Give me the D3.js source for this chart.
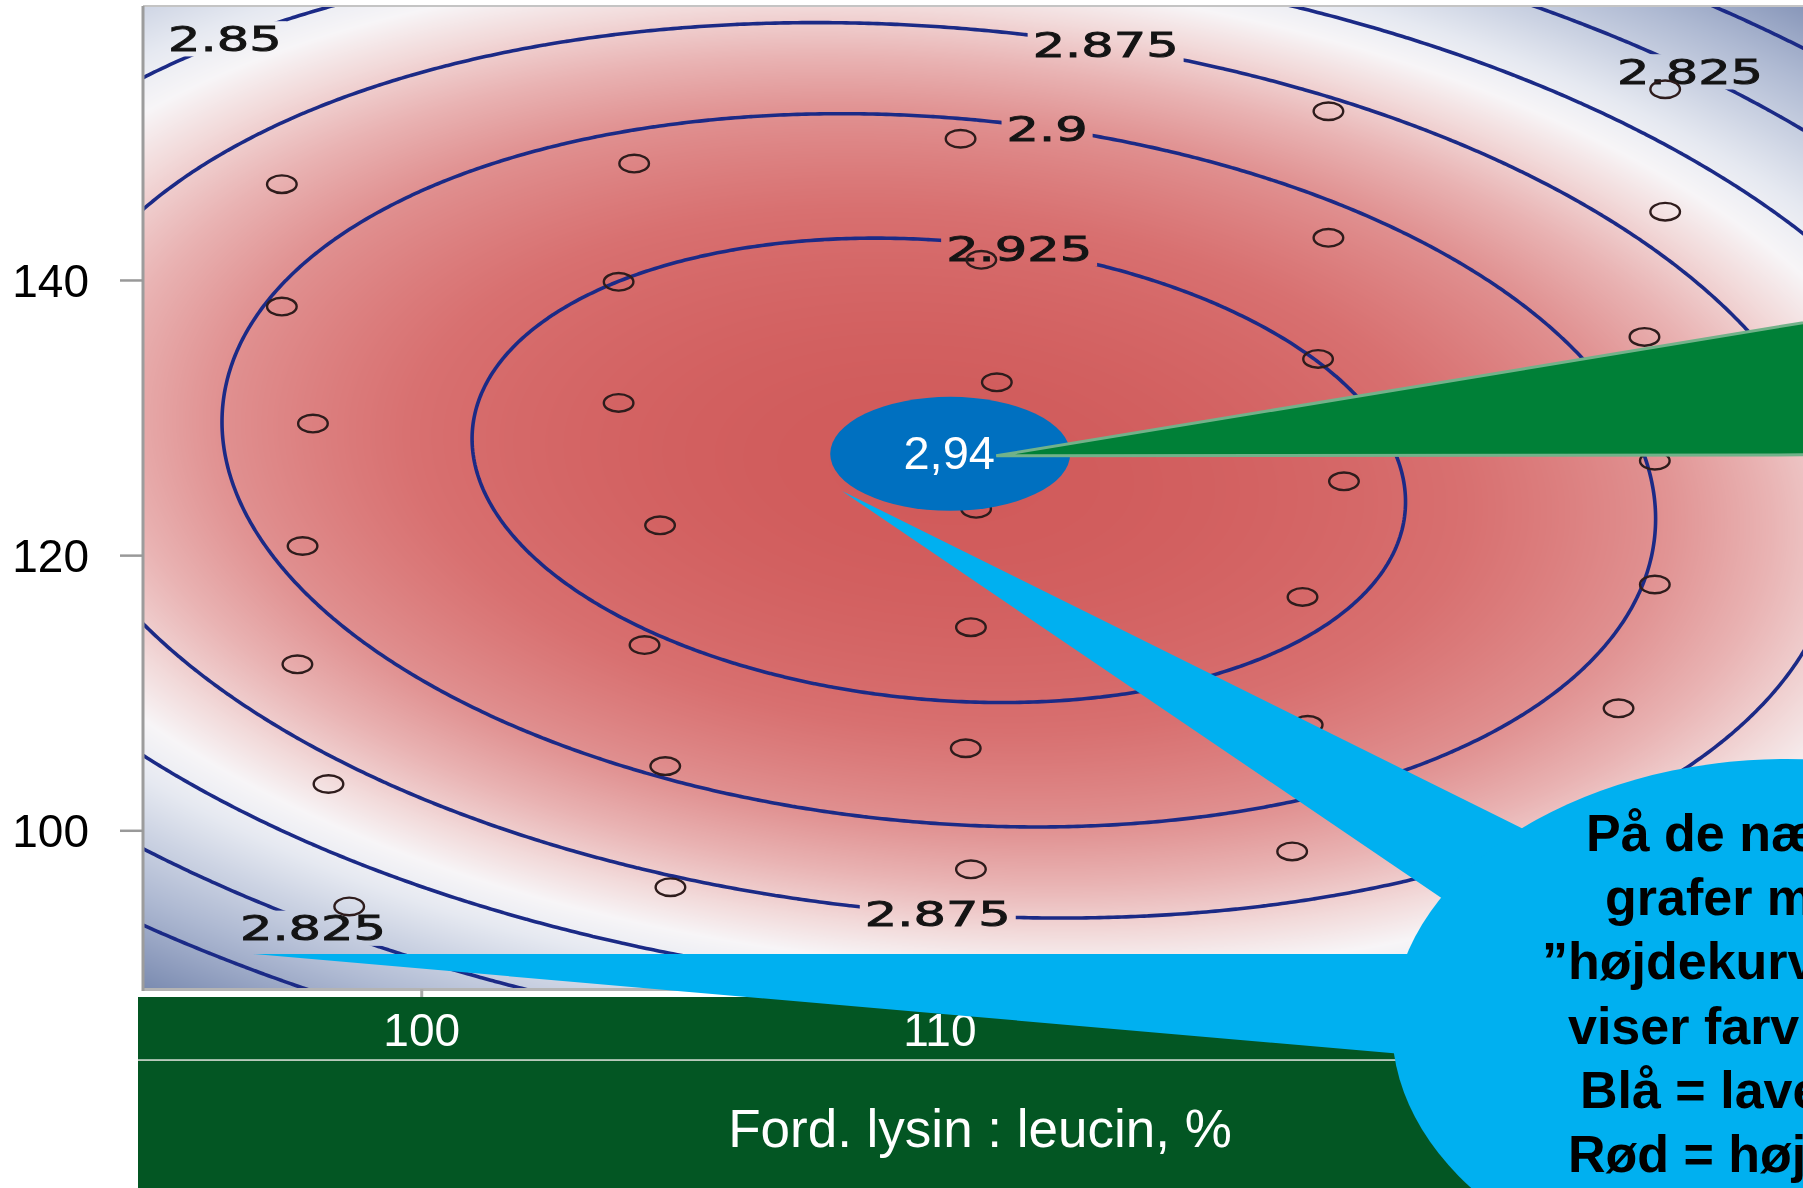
<!DOCTYPE html>
<html><head><meta charset="utf-8">
<script src="https://cdn.jsdelivr.net/npm/d3@7"></script>
<style>
html,body{margin:0;padding:0;background:#fff;overflow:hidden}
#wrap{position:relative;width:1803px;height:1188px}
canvas,svg{position:absolute;left:0;top:0}
</style></head><body><div id="wrap"><canvas id="heat" width="1803" height="1188"></canvas><svg id="chart" width="1803" height="1188"></svg></div>
<script>
// ---------- data ----------
const xTicks = [100, 110];
const yTicks = [100, 120, 140];
const xDomain = [94.62, 126.66];
const yDomain = [88.5, 159.95];
// response surface (ADG) fitted to the drawn contours
const peakValue = 2.9434;
const peakAt = [109.98, 126.2];
const curvature = [2.31e-4, 6.58e-5, 3.35e-5]; // x^2, y^2, x*y
const contourLevels = [2.775, 2.8, 2.825, 2.85, 2.875, 2.9, 2.925];
const labelLevels = [2.85, 2.875, 2.9, 2.925, 2.825, 2.825, 2.875];
const labelX = [96.2, 113.2, 112.07, 111.53, 124.48, 97.9, 109.96];
const labelY = [157.6, 157.1, 151.05, 142.33, 155.2, 92.95, 93.96];
const designX = [97.3, 97.3, 97.9, 97.7, 97.6, 98.2, 98.6,
                 104.1, 103.8, 103.8, 104.6, 104.3, 104.7, 104.8,
                 110.4, 110.8, 111.1, 110.7, 110.6, 110.5, 110.6,
                 117.5, 117.5, 117.3, 117.8, 117.0, 117.1, 116.8,
                 124.0, 124.0, 123.6, 123.8, 123.8, 123.1, 123.2];
const designY = [147.0, 138.1, 129.6, 120.7, 112.1, 103.4, 94.5,
                 148.5, 139.9, 131.1, 122.2, 113.5, 104.7, 95.9,
                 150.3, 141.5, 132.6, 123.4, 114.8, 106.0, 97.2,
                 152.3, 143.1, 134.3, 125.4, 117.0, 107.7, 98.5,
                 153.9, 145.0, 135.9, 126.9, 117.9, 108.9, 100.0];
const maxLabel = "2,94";
const maxAt = [110.2, 127.4];
const xTitle = "Ford. lysin : leucin, %";
const noteLines = ["På de næ", "grafer m", "”højdekurv", "viser farv", "Blå = lave", "Rød = høj"];
const colorStops = [2.77, 2.79, 2.81, 2.83, 2.845, 2.858, 2.87, 2.885, 2.9, 2.92, 2.944];
const colorRamp = ["#7183aa", "#8f9dbe", "#aeb9d2", "#ccd3e3", "#e6e9f1", "#f7f5f7", "#f2dada", "#e9b3b3", "#e09090", "#d87070", "#d05a5a"];

// ---------- layout ----------
const W = 1803, H = 1188;
const plot = {left: 143, right: 1803, top: 6, bottom: 989};
const xScale = d3.scaleLinear().domain(xDomain).range([plot.left, plot.right]);
const yScale = d3.scaleLinear().domain(yDomain).range([plot.bottom, plot.top]);
const color = d3.scaleLinear().domain(colorStops).range(colorRamp).clamp(true);

function surface(x, y) {
  const u = x - peakAt[0], v = y - peakAt[1];
  return peakValue - (curvature[0]*u*u + curvature[1]*v*v + curvature[2]*u*v);
}

// ---------- heat map on canvas ----------
const canvas = document.getElementById('heat');
const ctx = canvas.getContext('2d');
ctx.fillStyle = '#fff'; ctx.fillRect(0, 0, W, H);
const lutN = 1024, zLo = colorStops[0], zHi = colorStops[colorStops.length-1];
const lut = [];
for (let i = 0; i < lutN; i++) { const c = d3.rgb(color(zLo + (zHi - zLo) * i / (lutN - 1))); lut.push([c.r, c.g, c.b]); }
const pw = plot.right - plot.left, ph = plot.bottom - plot.top;
const img = ctx.createImageData(pw, ph);
for (let j = 0; j < ph; j++) {
  const yv = yScale.invert(plot.top + j + 0.5);
  for (let i = 0; i < pw; i++) {
    const xv = xScale.invert(plot.left + i + 0.5);
    let t = (surface(xv, yv) - zLo) / (zHi - zLo);
    t = Math.max(0, Math.min(1, t));
    const c = lut[Math.round(t * (lutN - 1))];
    const k = (j * pw + i) * 4;
    img.data[k] = c[0]; img.data[k+1] = c[1]; img.data[k+2] = c[2]; img.data[k+3] = 255;
  }
}
ctx.putImageData(img, plot.left, plot.top);

// ---------- svg ----------
const svg = d3.select('#chart');
const defs = svg.append('defs');
defs.append('clipPath').attr('id', 'plotclip').append('rect')
  .attr('x', plot.left).attr('y', plot.top).attr('width', pw).attr('height', ph);
const mask = defs.append('mask').attr('id', 'lblmask').attr('maskUnits', 'userSpaceOnUse')
  .attr('x', 0).attr('y', 0).attr('width', W).attr('height', H);
mask.append('rect').attr('x', 0).attr('y', 0).attr('width', W).attr('height', H).attr('fill', '#fff');

// contour grid
const nx = 420, ny = 320;
const gx0 = xDomain[0] - 2, gx1 = xDomain[1] + 2, gy0 = yDomain[0] - 4, gy1 = yDomain[1] + 4;
const gdx = (gx1 - gx0) / nx, gdy = (gy1 - gy0) / ny;
const values = new Float64Array(nx * ny);
for (let j = 0; j < ny; j++) for (let i = 0; i < nx; i++)
  values[i + j * nx] = surface(gx0 + (i + 0.5) * gdx, gy0 + (j + 0.5) * gdy);
const contours = d3.contours().size([nx, ny]).thresholds(contourLevels)(values);
const proj = d3.geoTransform({point: function(px, py) {
  this.stream.point(xScale(gx0 + px * gdx), yScale(gy0 + py * gdy));
}});
const path = d3.geoPath(proj);

const lineG = svg.append('g').attr('clip-path', 'url(#plotclip)')
  .append('g').attr('mask', 'url(#lblmask)');
lineG.selectAll('path').data(contours).join('path')
  .attr('d', path).attr('fill', 'none').attr('stroke', '#1b2a86').attr('stroke-width', 3.6);

// contour labels
const sx = 1.5;
const lblG = svg.append('g').attr('clip-path', 'url(#plotclip)');
labelLevels.forEach((lv, i) => {
  const X = xScale(labelX[i]), Y = yScale(labelY[i]);
  const t = lblG.append('text')
    .attr('transform', `translate(${X},${Y}) scale(${sx},1)`)
    .attr('text-anchor', 'middle').attr('dy', '0.36em')
    .attr('font-family', 'DejaVu Sans').attr('font-size', 34).attr('fill', '#141414')
    .attr('stroke', '#141414').attr('stroke-width', 0.9)
    .text(d3.format('')(lv));
  const bb = t.node().getBBox();
  mask.append('rect').attr('x', X + bb.x * sx - 5).attr('y', Y + bb.y + 2)
    .attr('width', bb.width * sx + 10).attr('height', bb.height - 4).attr('fill', '#000');
});

// design points
svg.append('g').attr('clip-path', 'url(#plotclip)').selectAll('ellipse')
  .data(designX.map((x, i) => [x, designY[i]])).join('ellipse')
  .attr('cx', d => xScale(d[0])).attr('cy', d => yScale(d[1]))
  .attr('rx', 14.8).attr('ry', 8.8)
  .attr('fill', 'none').attr('stroke', '#2e1c1c').attr('stroke-width', 2.4);

// frame
svg.append('line').attr('x1', plot.left).attr('x2', plot.right).attr('y1', plot.top).attr('y2', plot.top)
  .attr('stroke', '#c4c4c4').attr('stroke-width', 2);
svg.append('line').attr('x1', plot.left).attr('x2', plot.right).attr('y1', plot.bottom + 0.5).attr('y2', plot.bottom + 0.5)
  .attr('stroke', '#b4b4b4').attr('stroke-width', 3);
svg.append('line').attr('x1', plot.left).attr('x2', plot.left).attr('y1', plot.top).attr('y2', plot.bottom + 2)
  .attr('stroke', '#9c9c9c').attr('stroke-width', 3);

// y axis
const yAx = svg.append('g');
yTicks.forEach(v => {
  const y = yScale(v);
  yAx.append('line').attr('x1', 120).attr('x2', plot.left).attr('y1', y).attr('y2', y)
    .attr('stroke', '#999').attr('stroke-width', 2.5);
  yAx.append('text').attr('x', 89).attr('y', y + 16.5).attr('text-anchor', 'end')
    .attr('font-family', 'Liberation Sans, Arial, sans-serif').attr('font-size', 46).attr('fill', '#000')
    .text(v);
});
// x ticks
xTicks.forEach(v => {
  svg.append('line').attr('x1', xScale(v)).attr('x2', xScale(v)).attr('y1', plot.bottom).attr('y2', 997)
    .attr('stroke', '#aaa').attr('stroke-width', 3);
});

// green axis bands
svg.append('rect').attr('x', 138).attr('y', 997).attr('width', W - 138).attr('height', 62.5).attr('fill', '#035623');
svg.append('rect').attr('x', 138).attr('y', 1061).attr('width', W - 138).attr('height', H - 1061).attr('fill', '#035623');
svg.append('line').attr('x1', 138).attr('x2', W).attr('y1', 1060.2).attr('y2', 1060.2).attr('stroke', '#b9c9bb').attr('stroke-width', 1.5);
xTicks.forEach(v => {
  svg.append('text').attr('x', xScale(v)).attr('y', 1046).attr('text-anchor', 'middle')
    .attr('font-family', 'Liberation Sans, Arial, sans-serif').attr('font-size', 46).attr('fill', '#fff')
    .text(v);
});
svg.append('text').attr('x', 980).attr('y', 1147).attr('text-anchor', 'middle')
  .attr('font-family', 'Liberation Sans, Arial, sans-serif').attr('font-size', 53).attr('fill', '#fff')
  .text(xTitle);

// max marker
const mx = xScale(maxAt[0]), my = yScale(maxAt[1]);
svg.append('ellipse').attr('cx', mx).attr('cy', my).attr('rx', 120).attr('ry', 57).attr('fill', '#0070c0');
svg.append('text').attr('x', mx - 1).attr('y', my + 15.5).attr('text-anchor', 'middle')
  .attr('font-family', 'Liberation Sans, Arial, sans-serif').attr('font-size', 47).attr('fill', '#fff')
  .text(maxLabel);

// green callout pointer
const tip = [mx + 46, my + 2];
svg.append('path')
  .attr('d', `M${tip[0]},${tip[1]} L1830,${tip[1] - 0.165 * (1830 - tip[0])} L1830,${tip[1] - 1} Z`)
  .attr('fill', '#008037').attr('stroke', '#72b28a').attr('stroke-width', 3).attr('stroke-linejoin', 'miter');

// light blue note bubble with two pointers
const bub = {cx: 1787, cy: 1027, rx: 395, ry: 268};
const lb = '#00b0f0';
const t1 = [842, 491], t2 = [253, 954];
svg.append('path').attr('fill', lb)
  .attr('d', `M${t1[0]},${t1[1]} L1650,${t1[1] + 0.496 * (1650 - t1[0])} L1500,${t1[1] + 0.679 * (1500 - t1[0])} Z`);
svg.append('path').attr('fill', lb)
  .attr('d', `M${t2[0]},${t2[1]} L1600,${t2[1]} L1500,${t2[1] + 0.087 * (1500 - t2[0])} Z`);
svg.append('ellipse').attr('cx', bub.cx).attr('cy', bub.cy).attr('rx', bub.rx).attr('ry', bub.ry).attr('fill', lb);

const noteX = [1586, 1605, 1542, 1568, 1580, 1568];
noteLines.forEach((s, i) => {
  svg.append('text').attr('x', noteX[i]).attr('y', 851 + i * 64.2)
    .attr('font-family', 'Liberation Sans, Arial, sans-serif').attr('font-weight', 'bold')
    .attr('font-size', 52).attr('fill', '#000').text(s);
});
</script></body></html>
